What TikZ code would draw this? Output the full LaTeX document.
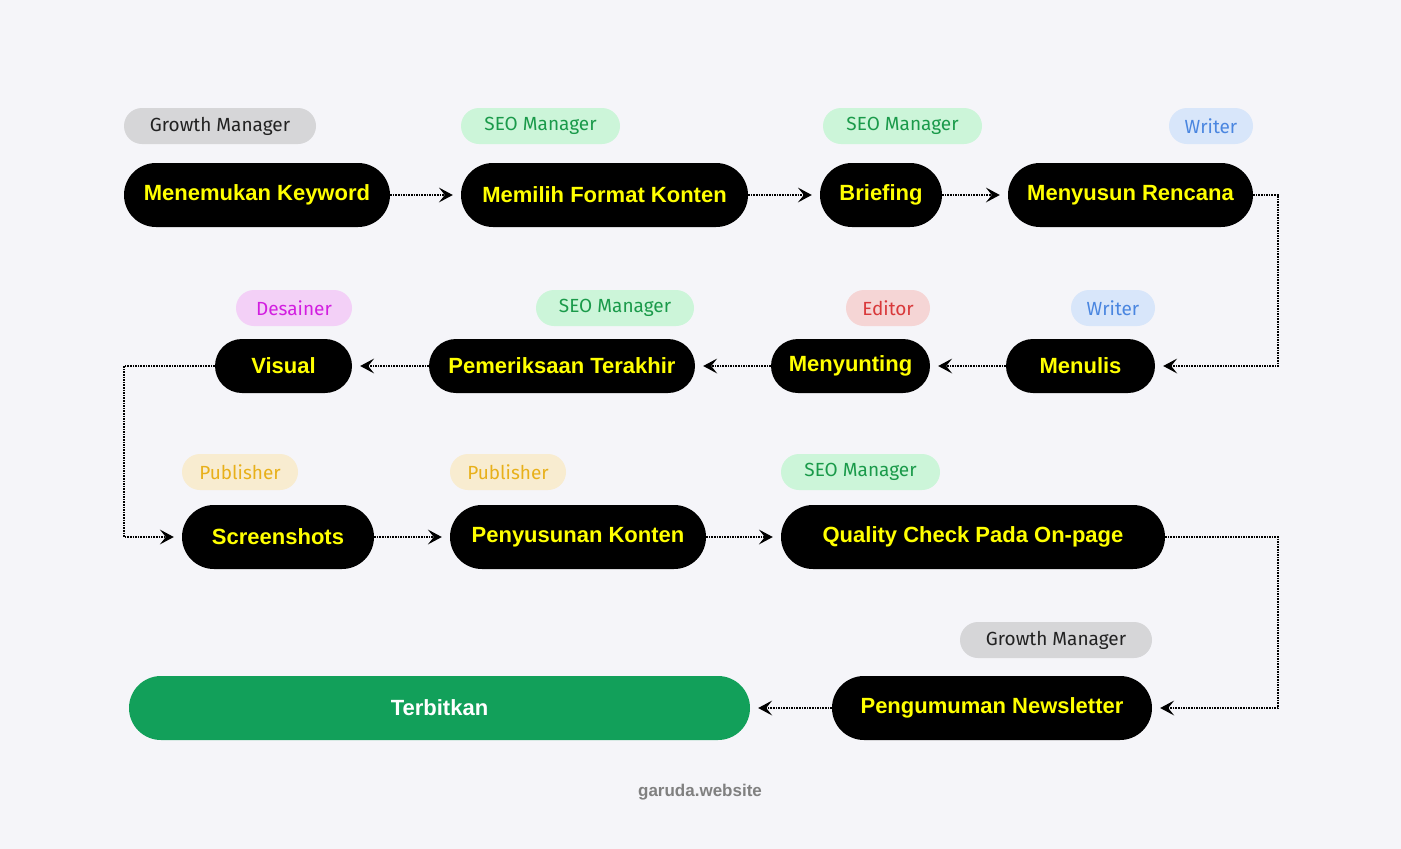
\documentclass[tikz,border=0pt]{standalone}
\usepackage{fontspec}
\setmainfont{Liberation Sans}
\newfontfamily\labfont{Fira Sans}
\usetikzlibrary{arrows.meta,shapes.misc}
\definecolor{bg}{HTML}{F5F5F9}
\definecolor{gbg}{HTML}{D6D6D8}\definecolor{gtx}{HTML}{222222}
\definecolor{sbg}{HTML}{CCF5D9}\definecolor{stx}{HTML}{1A9A4A}
\definecolor{wbg}{HTML}{D8E6FA}\definecolor{wtx}{HTML}{4A86E0}
\definecolor{dbg}{HTML}{F3D0F7}\definecolor{dtx}{HTML}{D21EE0}
\definecolor{ebg}{HTML}{F5D5D5}\definecolor{etx}{HTML}{D9383A}
\definecolor{pbg}{HTML}{F8ECD0}\definecolor{ptx}{HTML}{E8B01A}
\definecolor{grn}{HTML}{12A05A}
\definecolor{yel}{HTML}{FFFF00}
\tikzset{
 stepbox/.style={rounded rectangle,fill=black,text=yel,font=\bfseries\fontsize{22}{24}\selectfont,inner sep=0pt},
 tagbox/.style={rounded rectangle,inner sep=0pt,minimum height=36pt,font=\labfont\fontsize{19}{22}\selectfont},
 conn/.style={densely dotted,line width=1.6pt,-{Stealth[length=14pt,width=15pt,inset=6pt,line width=0pt,sep=0pt]},shorten >=8pt},
}
\newcommand{\sbx}[6]{\node[#6,minimum width={#3-#2},minimum height=#5] (#1) at ({(#2+#3)/2},#4) {};}
\begin{document}
\begin{tikzpicture}[x=1pt,y=-1pt]
\fill[bg] (0,0) rectangle (1401,849);
\useasboundingbox (0,0) rectangle (1401,849);
% row 1
\node[stepbox,minimum width=266pt,minimum height=64pt] (a1) at (257,195) {Menemukan Keyword};
\node[stepbox,minimum width=287pt,minimum height=64pt] (a2) at (604.5,195) {Memilih Format Konten};
\node[stepbox,minimum width=122pt,minimum height=64pt] (a3) at (881,195) {Briefing};
\node[stepbox,minimum width=245pt,minimum height=64pt] (a4) at (1130.5,195) {Menyusun Rencana};
\node[tagbox,fill=gbg,text=gtx,minimum width=192pt] (t1) at (220,126) {Growth Manager};
\node[tagbox,fill=sbg,text=stx,minimum width=159pt] (t2) at (540.5,126) {SEO Manager};
\node[tagbox,fill=sbg,text=stx,minimum width=159pt] (t3) at (902.5,126) {SEO Manager};
\node[tagbox,fill=wbg,text=wtx,minimum width=84pt] (t4) at (1211,126) {Writer};
% row 2
\node[stepbox,minimum width=137pt,minimum height=54pt] (b1) at (283.5,366) {Visual};
\node[stepbox,minimum width=266pt,minimum height=54pt] (b2) at (562,366) {Pemeriksaan Terakhir};
\node[stepbox,minimum width=159pt,minimum height=54pt] (b3) at (850.5,366) {Menyunting};
\node[stepbox,minimum width=149pt,minimum height=54pt] (b4) at (1080.5,366) {Menulis};
\node[tagbox,fill=dbg,text=dtx,minimum width=116pt] (u1) at (294,308) {Desainer};
\node[tagbox,fill=sbg,text=stx,minimum width=158pt] (u2) at (615,308) {SEO Manager};
\node[tagbox,fill=ebg,text=etx,minimum width=84pt] (u3) at (888,308) {Editor};
\node[tagbox,fill=wbg,text=wtx,minimum width=84pt] (u4) at (1113,308) {Writer};
% row 3
\node[stepbox,minimum width=192pt,minimum height=64pt] (c1) at (278,537) {Screenshots};
\node[stepbox,minimum width=256pt,minimum height=64pt] (c2) at (578,537) {Penyusunan Konten};
\node[stepbox,minimum width=384pt,minimum height=64pt] (c3) at (973,537) {Quality Check Pada On-page};
\node[tagbox,fill=pbg,text=ptx,minimum width=116pt] (v1) at (240,472) {Publisher};
\node[tagbox,fill=pbg,text=ptx,minimum width=116pt] (v2) at (508,472) {Publisher};
\node[tagbox,fill=sbg,text=stx,minimum width=159pt] (v3) at (860.5,472) {SEO Manager};
% row 4
\node[stepbox,fill=grn,text=white,minimum width=621pt,minimum height=64pt] (d1) at (439.5,708) {Terbitkan};
\node[stepbox,minimum width=320pt,minimum height=64pt] (d2) at (992,708) {Pengumuman Newsletter};
\node[tagbox,fill=gbg,text=gtx,minimum width=192pt] (w1) at (1056,640) {Growth Manager};
\node[font=\bfseries\fontsize{17}{20}\selectfont,text=gray] (ft) at (700,792) {garuda.website};
% connectors
\coordinate (r1) at (1278,195); \coordinate (r2) at (1278,366);
\coordinate (l1) at (124,366); \coordinate (l2) at (124,537);
\coordinate (q1) at (1278,537); \coordinate (q2) at (1278,708);
\draw[conn] (a1.east) -- (a2.west);
\draw[conn] (a2.east) -- (a3.west);
\draw[conn] (a3.east) -- (a4.west);
\draw[conn] (a4.east) -- (r1) -- (r2) -- (b4.east);
\draw[conn] (b4.west) -- (b3.east);
\draw[conn] (b3.west) -- (b2.east);
\draw[conn] (b2.west) -- (b1.east);
\draw[conn] (b1.west) -- (l1) -- (l2) -- (c1.west);
\draw[conn] (c1.east) -- (c2.west);
\draw[conn] (c2.east) -- (c3.west);
\draw[conn] (c3.east) -- (q1) -- (q2) -- (d2.east);
\draw[conn] (d2.west) -- (d1.east);
\end{tikzpicture}
\end{document}
